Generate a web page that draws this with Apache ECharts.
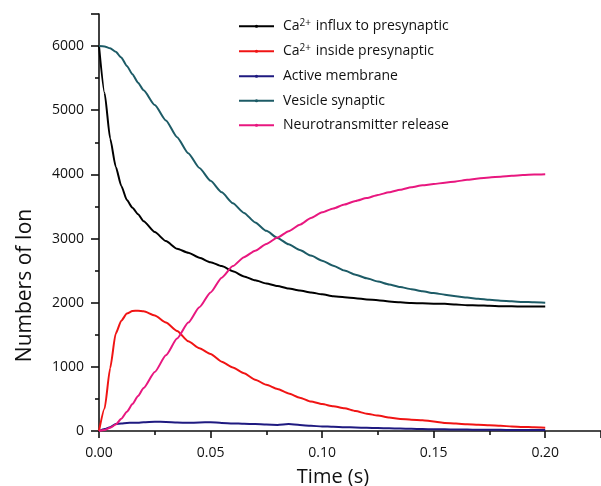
<!DOCTYPE html>
<html>
<head>
<meta charset="utf-8">
<script src="https://cdn.jsdelivr.net/npm/echarts@6/dist/echarts.min.js"></script>
<style>html,body{margin:0;padding:0;background:#fff}#c{width:601px;height:486px}</style>
</head>
<body>
<div id="c"></div>
<script>
const time = [0, 0.0025, 0.005, 0.0075, 0.01, 0.0125, 0.015, 0.0175, 0.02, 0.025, 0.03, 0.035, 0.04, 0.045, 0.05, 0.055, 0.06, 0.065, 0.07, 0.075, 0.08, 0.085, 0.09, 0.095, 0.10, 0.105, 0.11, 0.115, 0.12, 0.125, 0.13, 0.135, 0.14, 0.145, 0.15, 0.155, 0.16, 0.165, 0.17, 0.175, 0.18, 0.185, 0.19, 0.195, 0.20];
const caInflux = [6000, 5270, 4560, 4120, 3820, 3600, 3480, 3380, 3270, 3100, 2960, 2840, 2780, 2700, 2630, 2570, 2490, 2410, 2350, 2300, 2260, 2220, 2190, 2160, 2130, 2100, 2085, 2070, 2050, 2040, 2020, 2005, 1995, 1990, 1985, 1982, 1970, 1962, 1958, 1952, 1946, 1943, 1942, 1940, 1940];
const caInside = [0, 350, 980, 1520, 1720, 1830, 1870, 1875, 1865, 1800, 1690, 1560, 1400, 1290, 1200, 1080, 990, 900, 800, 720, 655, 585, 520, 460, 420, 385, 355, 310, 270, 240, 210, 188, 175, 166, 150, 125, 115, 106, 97, 89, 80, 72, 64, 57, 50];
const activeMembrane = [0, 30, 60, 108, 115, 125, 130, 128, 135, 145, 140, 132, 128, 132, 137, 125, 118, 112, 108, 100, 95, 108, 95, 80, 72, 65, 59, 55, 50, 46, 42, 38, 34, 30, 28, 26, 24, 22, 20, 19, 18, 16, 15, 14, 14];
const vesicle = [6000, 5995, 5965, 5910, 5820, 5690, 5560, 5430, 5310, 5080, 4840, 4580, 4330, 4100, 3900, 3720, 3550, 3400, 3250, 3120, 3010, 2910, 2820, 2735, 2655, 2575, 2500, 2435, 2380, 2330, 2285, 2245, 2210, 2178, 2150, 2125, 2100, 2080, 2062, 2046, 2032, 2021, 2012, 2006, 2000];
const release = [0, 15, 50, 100, 190, 300, 420, 545, 670, 920, 1180, 1440, 1690, 1930, 2160, 2390, 2570, 2710, 2810, 2915, 3015, 3115, 3215, 3320, 3410, 3470, 3530, 3585, 3630, 3680, 3720, 3760, 3800, 3830, 3850, 3870, 3890, 3915, 3936, 3950, 3965, 3978, 3990, 3997, 4003];
const seriesNames = ['Ca2+ influx to presynaptic', 'Ca2+ inside presynaptic', 'Active membrane', 'Vesicle synaptic', 'Neurotransmitter release'];
const colors = ['#000000', '#f01414', '#1f1a80', '#1d5b66', '#e8177f'];

const allValues = [caInflux, caInside, activeMembrane, vesicle, release];
const font = 'Open Sans';

const chart = echarts.init(document.getElementById('c'), null, {renderer: 'canvas'});
chart.setOption({
  animation: false,
  backgroundColor: '#fff',
  grid: {left: 99, right: 0, top: 14, bottom: 55, containLabel: false, outerBoundsMode: 'none'},
  legend: {
    orient: 'vertical',
    left: 233,
    top: 13,
    itemWidth: 35,
    itemHeight: 4,
    itemGap: 8,
    data: seriesNames,
    formatter: function (n) {
      return n.replace('Ca2+', 'Ca{sup|2+}');
    },
    textStyle: {
      fontFamily: font, fontSize: 14, color: '#111', padding: [0, 0, 0, 4], lineHeight: 16.5,
      rich: {sup: {fontFamily: font, fontSize: 10, color: '#111', verticalAlign: 'top', lineHeight: 16.5, padding: [0, 1, 7, 0]}}
    }
  },
  xAxis: {
    type: 'value', min: 0, max: 0.225, interval: 0.05,
    name: 'Time (s)', nameLocation: 'middle', nameGap: 36,
    nameTextStyle: {fontFamily: font, fontSize: 20, color: '#111', padding: [0, 34, 0, 0]},
    axisLine: {show: true, onZero: false, lineStyle: {color: '#111', width: 1.6}},
    axisTick: {show: true, inside: false, length: 7, lineStyle: {color: '#111', width: 1.6}},
    minorTick: {show: true, splitNumber: 2, length: 4, lineStyle: {color: '#111', width: 1.6}},
    splitLine: {show: false},
    axisLabel: {fontFamily: font, fontSize: 14, color: '#111', margin: 15,
      formatter: v => (Math.abs(v - 0.225) < 1e-9 ? '' : v.toFixed(2))}
  },
  yAxis: {
    type: 'value', min: 0, max: 6500, interval: 1000,
    name: 'Numbers of Ion', nameLocation: 'middle', nameGap: 63, nameRotate: 90,
    nameTextStyle: {fontFamily: font, fontSize: 21, color: '#111', padding: [0, 126, 0, 0]},
    axisLine: {show: true, lineStyle: {color: '#111', width: 1.6}},
    axisTick: {show: true, inside: false, length: 8, lineStyle: {color: '#111', width: 1.6}},
    minorTick: {show: true, splitNumber: 2, length: 4, lineStyle: {color: '#111', width: 1.6}},
    splitLine: {show: false},
    axisLabel: {fontFamily: font, fontSize: 14, color: '#111', margin: 15,
      formatter: v => (v === 6500 ? '' : String(v))}
  },
  series: seriesNames.map((name, i) => ({
    name: name,
    type: 'line',
    data: time.map((t, k) => [t, allValues[i][k]]),
    showSymbol: false,
    symbol: 'circle',
    symbolSize: 4,
    smooth: 0.2,
    smoothMonotone: 'x',
    lineStyle: {color: colors[i], width: 2},
    itemStyle: {color: colors[i]},
    z: i === 2 ? 1 : 2
  }))
});
</script>
</body>
</html>
